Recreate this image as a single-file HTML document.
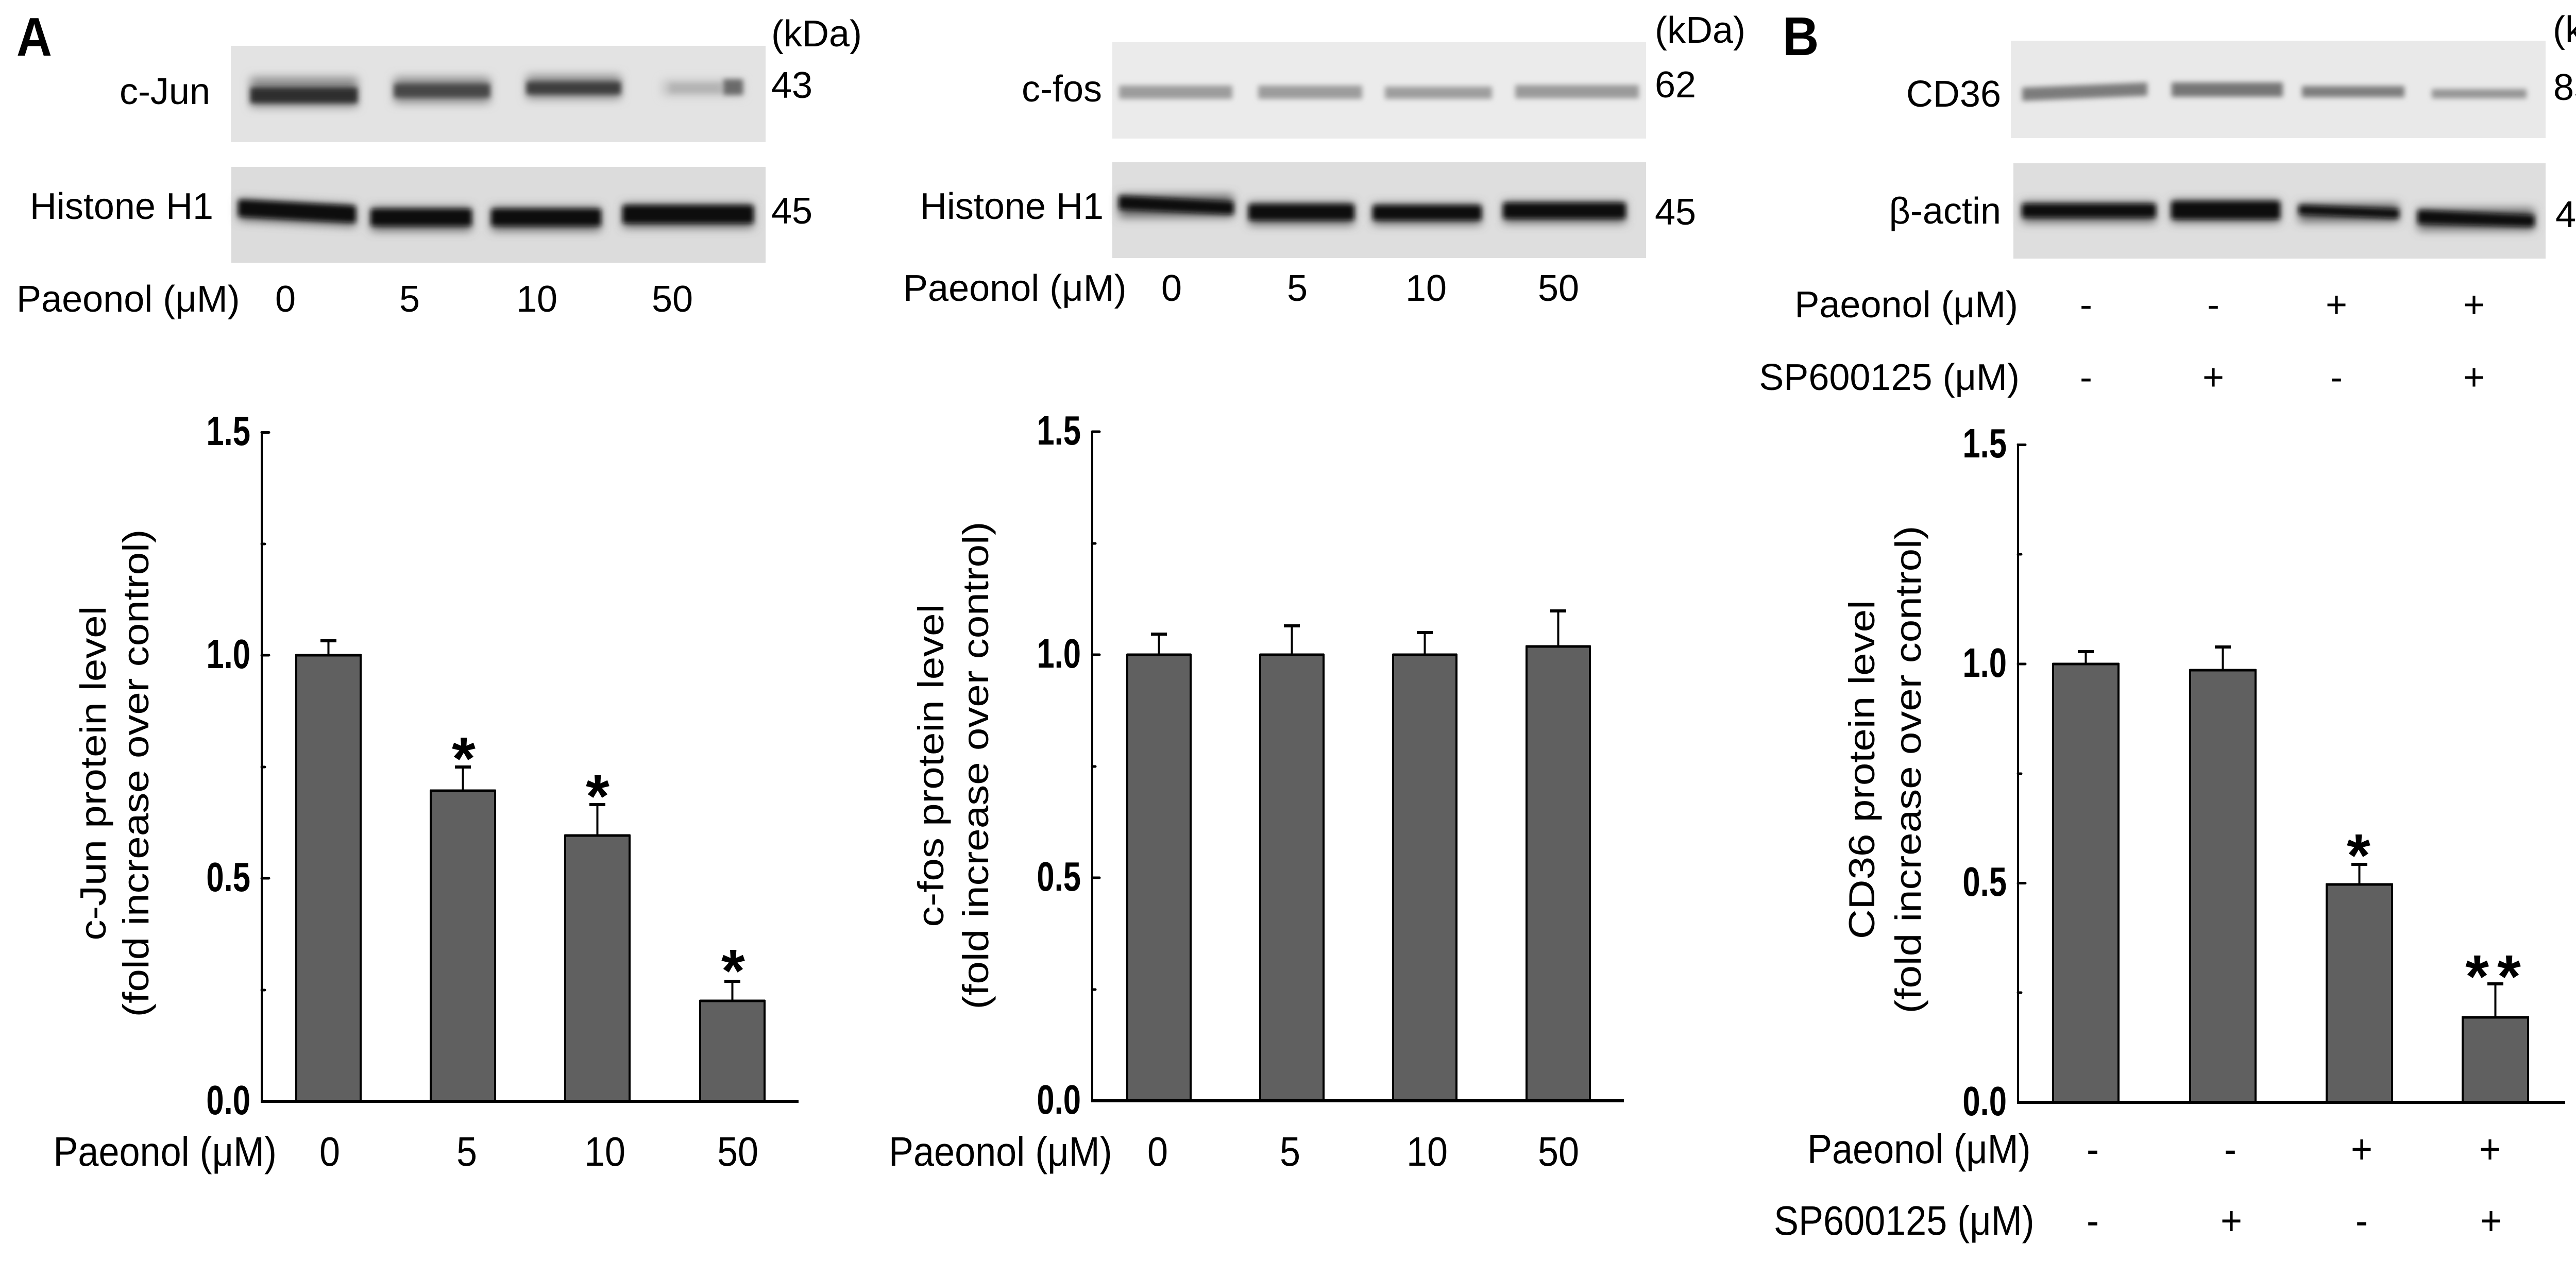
<!DOCTYPE html>
<html>
<head>
<meta charset="utf-8">
<style>
html,body{margin:0;padding:0;background:#fff;}
svg{display:block;}
text{font-family:"Liberation Sans",Arial,sans-serif;fill:#000;}
.g{font-size:72px;}
.c{font-size:80px;}
.tk{font-size:80px;font-weight:bold;}
.st{font-size:118px;font-weight:bold;}
.L{font-size:106px;font-weight:bold;}
</style>
</head>
<body>
<svg width="5160" height="2448" viewBox="0 0 5160 2448" xmlns="http://www.w3.org/2000/svg">
<defs>
<filter id="bl" x="-30%" y="-100%" width="160%" height="300%"><feGaussianBlur stdDeviation="5"/></filter>
<filter id="bl2" x="-30%" y="-100%" width="160%" height="300%"><feGaussianBlur stdDeviation="9"/></filter>
</defs>
<rect x="0" y="0" width="5160" height="2448" fill="#fff"/>

<!-- ================= PANEL LETTERS ================= -->
<text class="L" transform="translate(32,108) scale(0.9,1)">A</text>
<text class="L" transform="translate(3460,107) scale(0.92,1)">B</text>

<!-- ================= GEL A-LEFT ================= -->
<rect x="448" y="89" width="1038" height="187" fill="#e3e3e3"/>
<g filter="url(#bl2)">
  <rect x="486" y="150" width="208" height="58" fill="#8c8c8c"/>
  <rect x="765" y="150" width="186" height="50" fill="#8c8c8c"/>
  <rect x="1022" y="146" width="183" height="46" fill="#8c8c8c"/>
  <rect x="1286" y="156" width="156" height="30" fill="#c2c2c2"/>
</g>
<g filter="url(#bl)">
  <rect x="486" y="170" width="208" height="30" fill="#2e2e2e"/>
  <rect x="765" y="163" width="186" height="26" fill="#464646"/>
  <rect x="1022" y="159" width="183" height="24" fill="#3e3e3e"/>
  <rect x="1300" y="162" width="100" height="18" fill="#b4b4b4"/>
  <rect x="1404" y="154" width="38" height="30" fill="#6a6a6a"/>
</g>
<rect x="449" y="324" width="1037" height="186" fill="#dcdcdc"/>
<g filter="url(#bl2)">
  <path d="M463,386 L690,398 L690,440 L463,428 Z" fill="#666"/>
  <rect x="720" y="402" width="195" height="46" fill="#666"/>
  <rect x="954" y="402" width="212" height="46" fill="#666"/>
  <rect x="1209" y="396" width="253" height="46" fill="#666"/>
</g>
<g filter="url(#bl)">
  <path d="M463,388 L690,400 L690,432 L463,420 Z" fill="#0c0c0c"/>
  <rect x="720" y="406" width="195" height="32" fill="#0c0c0c"/>
  <rect x="954" y="406" width="212" height="32" fill="#0c0c0c"/>
  <rect x="1209" y="399" width="253" height="34" fill="#0c0c0c"/>
</g>
<text class="g" x="1497" y="90">(kDa)</text>
<text class="g" x="1497" y="190">43</text>
<text class="g" x="1497" y="434">45</text>
<text class="g" x="408" y="202" text-anchor="end">c-Jun</text>
<text class="g" x="414" y="425" text-anchor="end">Histone H1</text>
<text class="g" x="32" y="605">Paeonol (μM)</text>
<text class="g" x="554" y="605" text-anchor="middle">0</text>
<text class="g" x="795" y="605" text-anchor="middle">5</text>
<text class="g" x="1042" y="605" text-anchor="middle">10</text>
<text class="g" x="1305" y="605" text-anchor="middle">50</text>

<!-- ================= GEL A-MIDDLE ================= -->
<rect x="2159" y="82" width="1036" height="187" fill="#ebebeb"/>
<g filter="url(#bl)">
  <rect x="2172" y="166" width="220" height="26" fill="#9c9c9c"/>
  <rect x="2442" y="166" width="202" height="26" fill="#9c9c9c"/>
  <rect x="2688" y="168" width="208" height="24" fill="#9e9e9e"/>
  <rect x="2941" y="165" width="240" height="26" fill="#9a9a9a"/>
</g>
<rect x="2159" y="315" width="1036" height="186" fill="#dedede"/>
<g filter="url(#bl2)">
  <rect x="2172" y="378" width="222" height="44" fill="#666"/>
  <rect x="2424" y="393" width="204" height="44" fill="#666"/>
  <rect x="2665" y="396" width="210" height="40" fill="#666"/>
  <rect x="2918" y="391" width="237" height="42" fill="#666"/>
</g>
<g filter="url(#bl)">
  <path d="M2172,380 L2394,392 L2394,416 L2172,406 Z" fill="#0c0c0c"/>
  <rect x="2424" y="397" width="204" height="30" fill="#0c0c0c"/>
  <rect x="2665" y="399" width="210" height="28" fill="#0c0c0c"/>
  <rect x="2918" y="394" width="237" height="30" fill="#0c0c0c"/>
</g>
<text class="g" x="3212" y="83">(kDa)</text>
<text class="g" x="3212" y="189">62</text>
<text class="g" x="3212" y="436">45</text>
<text class="g" x="2139" y="197" text-anchor="end">c-fos</text>
<text class="g" x="2142" y="425" text-anchor="end">Histone H1</text>
<text class="g" x="1753" y="584">Paeonol (μM)</text>
<text class="g" x="2274" y="584" text-anchor="middle">0</text>
<text class="g" x="2518" y="584" text-anchor="middle">5</text>
<text class="g" x="2768" y="584" text-anchor="middle">10</text>
<text class="g" x="3025" y="584" text-anchor="middle">50</text>

<!-- ================= GEL B ================= -->
<rect x="3903" y="79" width="1038" height="189" fill="#e9e9e9"/>
<g filter="url(#bl)">
  <path d="M3925,170 L4168,160 L4168,186 L3925,196 Z" fill="#7c7c7c"/>
  <rect x="4215" y="160" width="216" height="28" fill="#767676"/>
  <rect x="4468" y="167" width="199" height="22" fill="#7e7e7e"/>
  <rect x="4720" y="173" width="184" height="18" fill="#949494"/>
</g>
<rect x="3908" y="317" width="1033" height="185" fill="#dedede"/>
<g filter="url(#bl2)">
  <rect x="3925" y="392" width="259" height="40" fill="#666"/>
  <rect x="4215" y="388" width="210" height="44" fill="#666"/>
  <rect x="4462" y="395" width="194" height="36" fill="#666"/>
  <rect x="4693" y="405" width="226" height="42" fill="#666"/>
</g>
<g filter="url(#bl)">
  <rect x="3925" y="396" width="259" height="26" fill="#0c0c0c"/>
  <rect x="4215" y="391" width="210" height="34" fill="#0c0c0c"/>
  <path d="M4462,398 L4656,406 L4656,424 L4462,416 Z" fill="#0c0c0c"/>
  <path d="M4693,408 L4919,418 L4919,440 L4693,434 Z" fill="#0c0c0c"/>
</g>
<text class="g" x="4955" y="82">(kDa)</text>
<text class="g" x="4956" y="194">85</text>
<text class="g" x="4960" y="441">45</text>
<text class="g" x="3884" y="207" text-anchor="end">CD36</text>
<text class="g" x="3884" y="434" text-anchor="end">β-actin</text>
<text class="g" x="3917" y="616" text-anchor="end">Paeonol (μM)</text>
<text class="g" x="3920" y="757" text-anchor="end">SP600125 (μM)</text>
<text class="g" x="4049" y="616" text-anchor="middle">-</text>
<text class="g" x="4296" y="616" text-anchor="middle">-</text>
<text class="g" x="4535" y="616" text-anchor="middle">+</text>
<text class="g" x="4802" y="616" text-anchor="middle">+</text>
<text class="g" x="4049" y="757" text-anchor="middle">-</text>
<text class="g" x="4296" y="757" text-anchor="middle">+</text>
<text class="g" x="4535" y="757" text-anchor="middle">-</text>
<text class="g" x="4802" y="757" text-anchor="middle">+</text>

<!-- ================= CHART 1 (c-Jun) ================= -->
<g stroke="#000" fill="#606060" stroke-width="4">
  <rect x="575" y="1272" width="125" height="866"/>
  <rect x="836" y="1535" width="125" height="603"/>
  <rect x="1097" y="1622" width="125" height="516"/>
  <rect x="1359" y="1943" width="125" height="195"/>
</g>
<g stroke="#000" stroke-width="5" fill="none">
  <line x1="574" y1="1272" x2="701" y2="1272"/>
  <line x1="835" y1="1535" x2="962" y2="1535"/>
  <line x1="1096" y1="1622" x2="1223" y2="1622"/>
  <line x1="1358" y1="1943" x2="1485" y2="1943"/>
</g>
<g stroke="#000" stroke-width="4">
  <line x1="637.5" y1="1272" x2="637.5" y2="1244"/>
  <line x1="898.5" y1="1535" x2="898.5" y2="1489"/>
  <line x1="1159.5" y1="1622" x2="1159.5" y2="1562"/>
  <line x1="1421.5" y1="1943" x2="1421.5" y2="1905"/>
</g>
<g stroke="#000" stroke-width="6">
  <line x1="622" y1="1244" x2="653" y2="1244"/>
  <line x1="883" y1="1489" x2="914" y2="1489"/>
  <line x1="1144" y1="1562" x2="1175" y2="1562"/>
  <line x1="1406" y1="1905" x2="1437" y2="1905"/>
</g>
<text class="st" x="900" y="1513" text-anchor="middle">*</text>
<text class="st" x="1160" y="1586" text-anchor="middle">*</text>
<text class="st" x="1423" y="1925" text-anchor="middle">*</text>
<!-- axes -->
<line x1="508" y1="837" x2="508" y2="2141" stroke="#000" stroke-width="4"/>
<line x1="506" y1="2138" x2="1550" y2="2138" stroke="#000" stroke-width="6"/>
<g stroke="#000" stroke-width="5" stroke-linecap="round">
  <line x1="508" y1="839.5" x2="522" y2="839.5"/>
  <line x1="508" y1="1272" x2="522" y2="1272"/>
  <line x1="508" y1="1705" x2="522" y2="1705"/>
  <line x1="508" y1="1056" x2="514" y2="1056"/>
  <line x1="508" y1="1489" x2="514" y2="1489"/>
  <line x1="508" y1="1922" x2="514" y2="1922"/>
</g>
<text class="tk" transform="translate(486,864) scale(0.77,1)" text-anchor="end">1.5</text>
<text class="tk" transform="translate(486,1297) scale(0.77,1)" text-anchor="end">1.0</text>
<text class="tk" transform="translate(486,1730) scale(0.77,1)" text-anchor="end">0.5</text>
<text class="tk" transform="translate(486,2163) scale(0.77,1)" text-anchor="end">0.0</text>
<text class="c" transform="translate(205,1501) scale(0.88,1) rotate(-90)" text-anchor="middle">c-Jun protein level</text>
<text class="c" transform="translate(288,1501) scale(0.88,1) rotate(-90)" text-anchor="middle">(fold increase over control)</text>
<text class="c" transform="translate(537,2263) scale(0.9,1)" text-anchor="end">Paeonol (μM)</text>
<text class="c" transform="translate(640,2263) scale(0.9,1)" text-anchor="middle">0</text>
<text class="c" transform="translate(906,2263) scale(0.9,1)" text-anchor="middle">5</text>
<text class="c" transform="translate(1174,2263) scale(0.9,1)" text-anchor="middle">10</text>
<text class="c" transform="translate(1432,2263) scale(0.9,1)" text-anchor="middle">50</text>

<!-- ================= CHART 2 (c-fos) ================= -->
<g stroke="#000" fill="#606060" stroke-width="4">
  <rect x="2188" y="1271" width="123" height="866"/>
  <rect x="2446" y="1271" width="123" height="866"/>
  <rect x="2704" y="1271" width="123" height="866"/>
  <rect x="2963" y="1255" width="123" height="882"/>
</g>
<g stroke="#000" stroke-width="5">
  <line x1="2187" y1="1271" x2="2312" y2="1271"/>
  <line x1="2445" y1="1271" x2="2570" y2="1271"/>
  <line x1="2703" y1="1271" x2="2828" y2="1271"/>
  <line x1="2962" y1="1255" x2="3087" y2="1255"/>
</g>
<g stroke="#000" stroke-width="4">
  <line x1="2249.5" y1="1271" x2="2249.5" y2="1231"/>
  <line x1="2507.5" y1="1271" x2="2507.5" y2="1215"/>
  <line x1="2765.5" y1="1271" x2="2765.5" y2="1228"/>
  <line x1="3024.5" y1="1255" x2="3024.5" y2="1186"/>
</g>
<g stroke="#000" stroke-width="6">
  <line x1="2234" y1="1231" x2="2265" y2="1231"/>
  <line x1="2492" y1="1215" x2="2523" y2="1215"/>
  <line x1="2750" y1="1228" x2="2781" y2="1228"/>
  <line x1="3009" y1="1186" x2="3040" y2="1186"/>
</g>
<line x1="2120" y1="836" x2="2120" y2="2140" stroke="#000" stroke-width="4"/>
<line x1="2118" y1="2137" x2="3152" y2="2137" stroke="#000" stroke-width="6"/>
<g stroke="#000" stroke-width="5" stroke-linecap="round">
  <line x1="2120" y1="838" x2="2134" y2="838"/>
  <line x1="2120" y1="1271" x2="2134" y2="1271"/>
  <line x1="2120" y1="1704" x2="2134" y2="1704"/>
  <line x1="2120" y1="1055" x2="2126" y2="1055"/>
  <line x1="2120" y1="1488" x2="2126" y2="1488"/>
  <line x1="2120" y1="1921" x2="2126" y2="1921"/>
</g>
<text class="tk" transform="translate(2098,863) scale(0.77,1)" text-anchor="end">1.5</text>
<text class="tk" transform="translate(2098,1296) scale(0.77,1)" text-anchor="end">1.0</text>
<text class="tk" transform="translate(2098,1729) scale(0.77,1)" text-anchor="end">0.5</text>
<text class="tk" transform="translate(2098,2162) scale(0.77,1)" text-anchor="end">0.0</text>
<text class="c" transform="translate(1831,1486) scale(0.88,1) rotate(-90)" text-anchor="middle">c-fos protein level</text>
<text class="c" transform="translate(1918,1486) scale(0.88,1) rotate(-90)" text-anchor="middle">(fold increase over control)</text>
<text class="c" transform="translate(1725,2263) scale(0.9,1)">Paeonol (μM)</text>
<text class="c" transform="translate(2247,2263) scale(0.9,1)" text-anchor="middle">0</text>
<text class="c" transform="translate(2504,2263) scale(0.9,1)" text-anchor="middle">5</text>
<text class="c" transform="translate(2770,2263) scale(0.9,1)" text-anchor="middle">10</text>
<text class="c" transform="translate(3025,2263) scale(0.9,1)" text-anchor="middle">50</text>

<!-- ================= CHART 3 (CD36) ================= -->
<g stroke="#000" fill="#606060" stroke-width="4">
  <rect x="3985" y="1289" width="127" height="851"/>
  <rect x="4251" y="1301" width="127" height="839"/>
  <rect x="4516" y="1717" width="127" height="423"/>
  <rect x="4780" y="1975" width="127" height="165"/>
</g>
<g stroke="#000" stroke-width="5">
  <line x1="3984" y1="1289" x2="4113" y2="1289"/>
  <line x1="4250" y1="1301" x2="4379" y2="1301"/>
  <line x1="4515" y1="1717" x2="4644" y2="1717"/>
  <line x1="4779" y1="1975" x2="4908" y2="1975"/>
</g>
<g stroke="#000" stroke-width="4">
  <line x1="4048.5" y1="1289" x2="4048.5" y2="1265"/>
  <line x1="4314.5" y1="1301" x2="4314.5" y2="1256"/>
  <line x1="4579.5" y1="1717" x2="4579.5" y2="1678"/>
  <line x1="4843.5" y1="1975" x2="4843.5" y2="1910"/>
</g>
<g stroke="#000" stroke-width="6">
  <line x1="4033" y1="1265" x2="4064" y2="1265"/>
  <line x1="4299" y1="1256" x2="4330" y2="1256"/>
  <line x1="4564" y1="1678" x2="4595" y2="1678"/>
  <line x1="4828" y1="1910" x2="4859" y2="1910"/>
</g>
<text class="st" x="4578" y="1701" text-anchor="middle">*</text>
<text class="st" x="4847" y="1936" text-anchor="middle" letter-spacing="16">**</text>
<line x1="3917" y1="861" x2="3917" y2="2143" stroke="#000" stroke-width="4"/>
<line x1="3915" y1="2140" x2="4979" y2="2140" stroke="#000" stroke-width="6"/>
<g stroke="#000" stroke-width="5" stroke-linecap="round">
  <line x1="3917" y1="863.5" x2="3931" y2="863.5"/>
  <line x1="3917" y1="1289" x2="3931" y2="1289"/>
  <line x1="3917" y1="1714.5" x2="3931" y2="1714.5"/>
  <line x1="3917" y1="1076" x2="3923" y2="1076"/>
  <line x1="3917" y1="1502" x2="3923" y2="1502"/>
  <line x1="3917" y1="1927" x2="3923" y2="1927"/>
</g>
<text class="tk" transform="translate(3895,888) scale(0.77,1)" text-anchor="end">1.5</text>
<text class="tk" transform="translate(3895,1314) scale(0.77,1)" text-anchor="end">1.0</text>
<text class="tk" transform="translate(3895,1739) scale(0.77,1)" text-anchor="end">0.5</text>
<text class="tk" transform="translate(3895,2165) scale(0.77,1)" text-anchor="end">0.0</text>
<text class="c" transform="translate(3638,1494) scale(0.88,1) rotate(-90)" text-anchor="middle">CD36 protein level</text>
<text class="c" transform="translate(3728,1494) scale(0.88,1) rotate(-90)" text-anchor="middle">(fold increase over control)</text>
<text class="c" transform="translate(3508,2258) scale(0.9,1)">Paeonol (μM)</text>
<text class="c" transform="translate(3443,2397) scale(0.9,1)">SP600125 (μM)</text>
<text class="c" transform="translate(4062,2258) scale(0.9,1)" text-anchor="middle">-</text>
<text class="c" transform="translate(4329,2258) scale(0.9,1)" text-anchor="middle">-</text>
<text class="c" transform="translate(4584,2258) scale(0.9,1)" text-anchor="middle">+</text>
<text class="c" transform="translate(4833,2258) scale(0.9,1)" text-anchor="middle">+</text>
<text class="c" transform="translate(4062,2397) scale(0.9,1)" text-anchor="middle">-</text>
<text class="c" transform="translate(4331,2397) scale(0.9,1)" text-anchor="middle">+</text>
<text class="c" transform="translate(4584,2397) scale(0.9,1)" text-anchor="middle">-</text>
<text class="c" transform="translate(4835,2397) scale(0.9,1)" text-anchor="middle">+</text>
</svg>
</body>
</html>
